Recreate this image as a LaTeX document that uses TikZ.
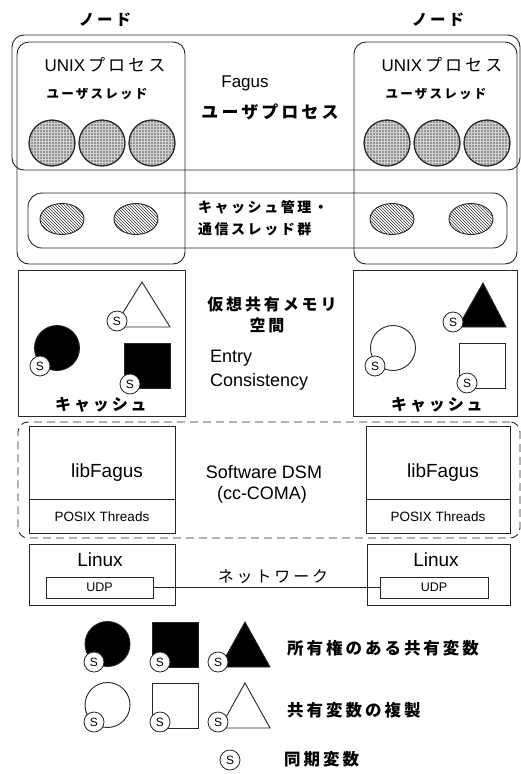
\documentclass[tikz,border=0pt]{standalone}
\usepackage{fontspec}
\setmainfont{Liberation Sans}
\newfontfamily\jpf[LetterSpace=18]{Noto Sans CJK JP}
\usetikzlibrary{patterns,shapes.geometric}
\newcommand\fsz[1]{\fontsize{#1}{#1}\selectfont}
\tikzset{
  ln/.style={draw=black!85, line width=0.9pt},
  box/.style={ln, rectangle, inner sep=0pt},
  rbox/.style={box, rounded corners=#1},
  sv/.style={circle, draw=black!85, line width=0.8pt, fill=white, minimum size=20pt, inner sep=0pt, font=\fsz{12}},
  thread/.style={circle, ln, fill=black!42, minimum size=46pt, inner sep=0pt},
  cthread/.style={ellipse, ln, pattern=north west lines, pattern color=black!80, minimum width=44pt, minimum height=31pt, inner sep=0pt},
  jb/.style={font=\jpf\bfseries\fsz{#1}, inner sep=0pt},
  jr/.style={font=\jpf\fsz{#1}, inner sep=0pt},
  lt/.style={font=\fsz{#1}, inner sep=0pt},
  fcirc/.style={circle, ln, fill=black, minimum size=45pt, inner sep=0pt},
  ocirc/.style={circle, ln, fill=white, minimum size=45pt, inner sep=0pt},
  fsq/.style={box, fill=black, minimum width=46pt, minimum height=45pt},
  osq/.style={box, fill=white, minimum width=46pt, minimum height=45pt},
}
\begin{document}
\begin{tikzpicture}[x=1pt,y=-1pt]
\useasboundingbox[fill=white] (0,0) rectangle (521,774);

% node labels
\node[jb=15.5] (nodeLbl) at (105,20) {ノード};
\node[jb=15.5] (nodeRbl) at (438,20) {ノード};

% process boxes
\node[rbox=12pt, minimum width=508pt, minimum height=135pt] (proc) at (266,102.5) {};
\node[rbox=12pt, minimum width=168pt, minimum height=222pt] (nodeL) at (101,153) {};
\node[rbox=12pt, minimum width=163pt, minimum height=222pt] (nodeR) at (435.5,153) {};
\node[rbox=14pt, minimum width=479pt, minimum height=55pt] (thr) at (267.5,220.5) {};

% texts in process
\node[anchor=base, inner sep=0pt] (unixL) at (105,71) {\fsz{17}UNIX\,\jpf プロセス};
\node[anchor=base, inner sep=0pt] (unixR) at (442,71) {\fsz{17}UNIX\,\jpf プロセス};
\node[jb=12.5] (utL) at (97,94) {ユーザスレッド};
\node[jb=12.5] (utR) at (436,94) {ユーザスレッド};
\node[lt=17] (fagus) at (245,83) {Fagus};
\node[jb=17] (uproc) at (270,112) {ユーザプロセス};

% user threads
\node[thread] (t1) at (52,143) {};
\node[thread] (t2) at (102,143) {};
\node[thread] (t3) at (152,143) {};
\node[thread] (t4) at (387,143) {};
\node[thread] (t5) at (437,143) {};
\node[thread] (t6) at (487,143) {};
\foreach \n in {t1,t2,t3,t4,t5,t6}{
  \path[pattern=grid, pattern color=black!18] (\n.center) circle[radius=22pt];
  \draw[ln] (\n.center) circle[radius=23pt];
}

% cache mgmt threads
\node[cthread] (c1) at (62,219) {};
\node[cthread] (c2) at (136,219) {};
\node[cthread] (c3) at (392,219) {};
\node[cthread] (c4) at (471,219) {};
\node[jb=14, anchor=west] (cm1) at (198,207) {キャッシュ管理・};
\node[jb=14, anchor=west] (cm2) at (198,229) {通信スレッド群};

% cache boxes
\node[box, minimum width=167pt, minimum height=146pt] (cacheL) at (101.5,343) {};
\node[box, minimum width=164pt, minimum height=146pt] (cacheR) at (435,343) {};
\node[jb=16] (vs1) at (272,304) {仮想共有メモリ};
\node[jb=16] (vs2) at (267,325) {空間};
\node[lt=18, anchor=west] (entry) at (210,358) {Entry};
\node[lt=18, anchor=west] (cons) at (210,382) {Consistency};
\node[jb=16] (cachetL) at (101,405) {キャッシュ};
\node[jb=16] (cachetR) at (437,405) {キャッシュ};

% left cache contents
\draw[ln] (114,327) -- (170,327) -- (142,282) -- cycle;
\node[fcirc] (lc) at (57,348) {};
\node[fsq] (lsq) at (147,365.5) {};
\node[sv] (sa) at (117,321) {S};
\node[sv] (sb) at (40,366) {S};
\node[sv] (sc) at (130,384) {S};

% right cache contents
\draw[ln, fill=black] (458,327) -- (506,327) -- (483,283) -- cycle;
\node[ocirc] (rc) at (393,348) {};
\node[osq] (rsq) at (482.5,365.5) {};
\node[sv] (sd) at (453,322) {S};
\node[sv] (se) at (375,366) {S};
\node[sv] (sf) at (467,383) {S};

% DSM
\node[ln, dashed, dash pattern=on 8pt off 5pt, rounded corners=10pt, minimum width=502pt, minimum height=116pt, inner sep=0pt] (dsm) at (269,480) {};
\node[box, minimum width=146pt, minimum height=73pt] (libL) at (102,462.5) {};
\node[box, minimum width=146pt, minimum height=34pt] (posL) at (102,516) {};
\node[box, minimum width=144pt, minimum height=73pt] (libR) at (438,462.5) {};
\node[box, minimum width=144pt, minimum height=34pt] (posR) at (438,516) {};
\node[lt=19] (libtL) at (107,473) {libFagus};
\node[lt=19] (libtR) at (443,473) {libFagus};
\node[lt=13.5] (postL) at (102,517) {POSIX Threads};
\node[lt=13.5] (postR) at (438,517) {POSIX Threads};
\node[lt=18] (sdsm) at (264,472) {Software DSM};
\node[lt=18] (coma) at (262,495) {(cc-COMA)};

% Linux
\node[box, minimum width=146pt, minimum height=61pt] (linL) at (102,574.5) {};
\node[box, minimum width=143pt, minimum height=61pt] (linR) at (438.5,574.5) {};
\node[box, minimum width=107pt, minimum height=21pt, font=\fsz{12.5}] (udpL) at (99.5,587.5) {UDP};
\node[box, minimum width=108pt, minimum height=21pt, font=\fsz{12.5}] (udpR) at (434,587.5) {UDP};
\node[lt=19] (linuxtL) at (100,560) {Linux};
\node[lt=19] (linuxtR) at (436,560) {Linux};
\draw[ln] (udpL.east) -- (udpR.west);
\node[jr=16] (net) at (273,577) {ネットワーク};

% legend
\node[fcirc] (g1) at (107.5,644) {};
\node[fsq] (g2) at (175.5,644.5) {};
\draw[ln, fill=black] (220,667) -- (270,667) -- (245,622) -- cycle;
\node[sv] (gs1) at (94,662) {S};
\node[sv] (gs2) at (160,662) {S};
\node[sv] (gs3) at (218,662) {S};
\node[jb=16.5, anchor=west] (leg1) at (287,648) {所有権のある共有変数};

\node[ocirc] (h1) at (107.5,705) {};
\node[osq] (h2) at (175.5,705.5) {};
\draw[ln, fill=white] (220,728) -- (270,728) -- (245,683) -- cycle;
\node[sv] (hs1) at (94,722) {S};
\node[sv] (hs2) at (160,722) {S};
\node[sv] (hs3) at (218,722) {S};
\node[jb=16.5, anchor=west] (leg2) at (287,710) {共有変数の複製};

\node[sv] (ks) at (230,760) {S};
\node[jb=16.5, anchor=west] (leg3) at (284,759) {同期変数};
\end{tikzpicture}
\end{document}
